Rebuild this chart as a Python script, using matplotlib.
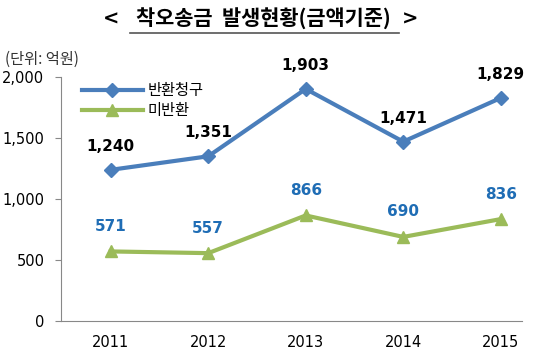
import matplotlib
matplotlib.use('Agg')
import matplotlib.pyplot as plt
from matplotlib.lines import Line2D

plt.rcParams['font.family'] = ['Noto Sans CJK KR', 'DejaVu Sans']

years = ['2011', '2012', '2013', '2014', '2015']
returned_req = [1240, 1351, 1903, 1471, 1829]
not_returned = [571, 557, 866, 690, 836]
yticks = [0, 500, 1000, 1500, 2000]

blue = '#4A7EBB'
green = '#9BBB59'
label_blue = '#1F6DB5'

fig = plt.figure(figsize=(5.4, 3.49), dpi=100)
ax = fig.add_axes([0.113, 0.080, 0.854, 0.699])

x = range(len(years))
ax.plot(x, returned_req, color=blue, lw=3, marker='D', ms=7, label='반환청구')
ax.plot(x, not_returned, color=green, lw=3, marker='^', ms=9, label='미반환')

for i, v in enumerate(returned_req):
    ax.annotate(f'{v:,}', (i, v), xytext=(0, 17), textcoords='offset points',
                ha='center', va='center', fontsize=11, fontweight='bold',
                color='black', family='DejaVu Sans')
for i, v in enumerate(not_returned):
    ax.annotate(f'{v:,}', (i, v), xytext=(0, 18), textcoords='offset points',
                ha='center', va='center', fontsize=11, fontweight='bold',
                color=label_blue, family='DejaVu Sans')

ax.set_xlim(-0.51, 4.22)
ax.set_ylim(0, 2000)
ax.set_xticks(list(x))
ax.set_xticklabels(years, family='DejaVu Sans', fontsize=10.5)
ax.set_yticks(yticks)
ax.set_yticklabels([f'{t:,}' for t in yticks], family='DejaVu Sans', fontsize=10.5)
ax.tick_params(axis='x', length=0, pad=10)
ax.tick_params(axis='y', length=4, color='#888888', pad=8)

for s in ['top', 'right']:
    ax.spines[s].set_visible(False)
for s in ['left', 'bottom']:
    ax.spines[s].set_color('#888888')

ax.legend(loc='upper left', bbox_to_anchor=(0.015, 1.035), frameon=False,
          handlelength=4.0, fontsize=11, labelspacing=0.2, handletextpad=0.3)

fig.text(0.01, 0.83, '(단위: 억원)', fontsize=11, color='#333333', va='center')

# title with underline
fig.text(0.487, 0.945, '착오송금  발생현황(금액기준)', fontsize=15, fontweight='bold',
         ha='center', va='center')
fig.text(0.205, 0.945, '<', fontsize=14, fontweight='bold', ha='center', va='center',
         family='DejaVu Sans')
fig.text(0.76, 0.945, '>', fontsize=14, fontweight='bold', ha='center', va='center',
         family='DejaVu Sans')
fig.add_artist(Line2D([0.24, 0.738], [0.905, 0.905], color='#555555', lw=1.2,
                      transform=fig.transFigure))

fig.savefig('out.png', dpi=100)
